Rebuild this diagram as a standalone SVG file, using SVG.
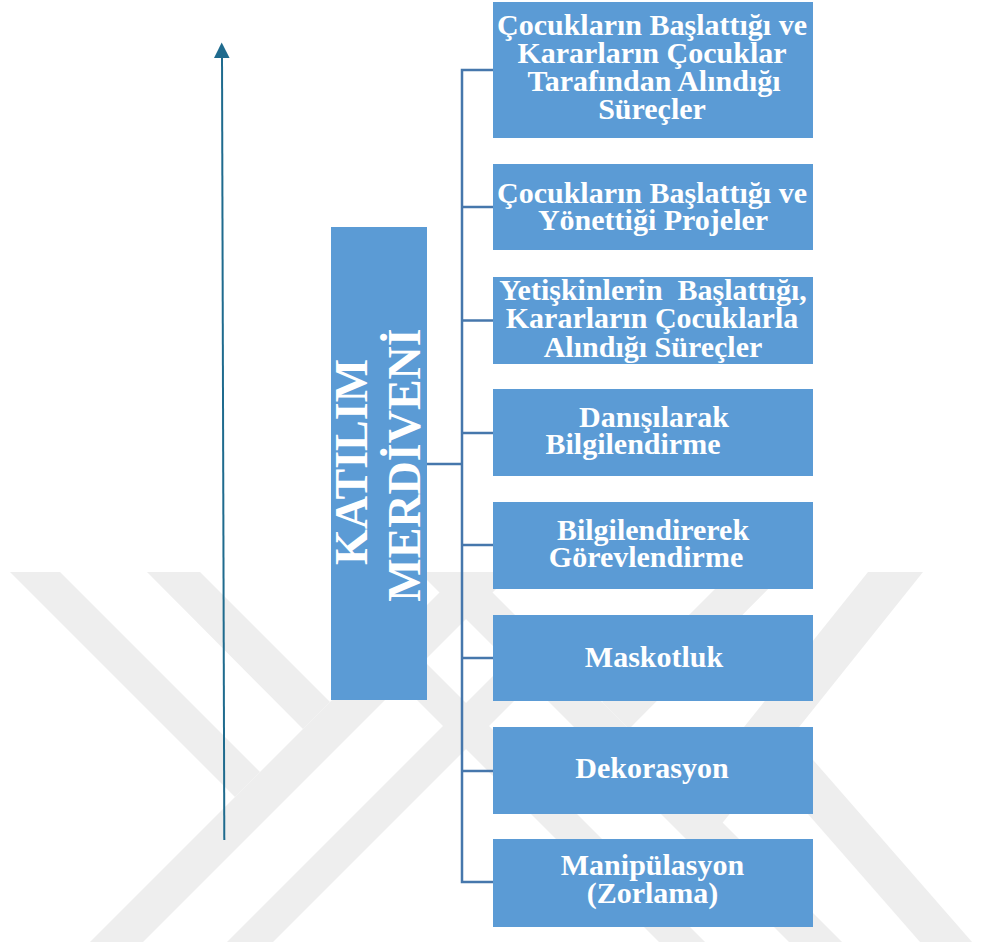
<svg xmlns="http://www.w3.org/2000/svg" width="986" height="952" viewBox="0 0 986 952">
  <defs>
    <style>
      .wm { fill: #eeeeee; }
      .box { fill: #5b9bd5; }
      .lbl { font-family: "Liberation Serif", "Times New Roman", serif; font-weight: bold; font-size: 30px; fill: #ffffff; text-anchor: middle; }
      .title { font-family: "Liberation Serif", "Times New Roman", serif; font-weight: bold; font-size: 46px; fill: #ffffff; text-anchor: middle; }
      .conn { stroke: #4677ac; stroke-width: 2.5; fill: none; }
      .axis { stroke: #1f6b8e; stroke-width: 2; fill: none; }
      .head { fill: #1f6b8e; }
    </style>
  </defs>

  <!-- background emblem -->
  <g id="emblem">
    <polygon class="wm" points="10,572 60,572 260,772 235,797"/>
    <polygon class="wm" points="147,572 200,572 330,702 303,729"/>
    <polygon class="wm" points="90,942 143,942 513,572 460,572"/>
    <polygon class="wm" points="227,942 273,942 531,684 508,661"/>
    <polygon class="wm" points="842,942 789,942 419,572 472,572"/>
    <polygon class="wm" points="705,942 659,942 401,684 424,661"/>
    <polygon class="wm" points="785,572 732,572 602,702 629,729"/>
    <polygon class="wm" points="868,572 923,572 700,851 700,782"/>
    <polygon class="wm" points="920,942 972,942 780,722 780,782"/>
  </g>

  <!-- vertical scale arrow -->
  <g id="scale-arrow">
    <line class="axis" x1="224.3" y1="840" x2="222" y2="56"/>
    <polygon class="head" points="221.7,42.5 229.6,58 214,58"/>
  </g>

  <!-- connectors -->
  <g id="connectors">
    <line class="conn" x1="427" y1="464" x2="462" y2="464"/>
    <polyline class="conn" points="493,70 462,70 462,882 493,882"/>
    <line class="conn" x1="462" y1="207" x2="493" y2="207"/>
    <line class="conn" x1="462" y1="320.5" x2="493" y2="320.5"/>
    <line class="conn" x1="462" y1="433" x2="493" y2="433"/>
    <line class="conn" x1="462" y1="545" x2="493" y2="545"/>
    <line class="conn" x1="462" y1="658" x2="493" y2="658"/>
    <line class="conn" x1="462" y1="771" x2="493" y2="771"/>
  </g>

  <!-- root -->
  <g id="katilim-merdiveni">
    <rect class="box" x="331" y="227" width="96" height="473"/>
    <text class="title" transform="translate(367,462) rotate(-90)">KATILIM</text>
    <text class="title" transform="translate(420,465) rotate(-90)">MERDİVENİ</text>
  </g>

  <!-- rungs -->
  <g id="rung-1">
    <rect class="box" x="493" y="2" width="320" height="136"/>
    <text class="lbl" x="652" y="34.5">Çocukların Başlattığı ve</text>
    <text class="lbl" x="652" y="62.7">Kararların Çocuklar</text>
    <text class="lbl" x="654" y="90.8">Tarafından Alındığı</text>
    <text class="lbl" x="652" y="119.3">Süreçler</text>
  </g>
  <g id="rung-2">
    <rect class="box" x="493" y="164" width="320" height="86"/>
    <text class="lbl" x="652" y="202.7">Çocukların Başlattığı ve</text>
    <text class="lbl" x="653" y="230">Yönettiği Projeler</text>
  </g>
  <g id="rung-3">
    <rect class="box" x="493" y="277" width="320" height="87"/>
    <text class="lbl" x="653" y="300" xml:space="preserve">Yetişkinlerin  Başlattığı,</text>
    <text class="lbl" x="652" y="327.7">Kararların Çocuklarla</text>
    <text class="lbl" x="653" y="356.7">Alındığı Süreçler</text>
  </g>
  <g id="rung-4">
    <rect class="box" x="493" y="389" width="320" height="87"/>
    <text class="lbl" x="654" y="426.7">Danışılarak</text>
    <text class="lbl" x="633" y="454.3">Bilgilendirme</text>
  </g>
  <g id="rung-5">
    <rect class="box" x="493" y="502" width="320" height="87"/>
    <text class="lbl" x="653" y="540">Bilgilendirerek</text>
    <text class="lbl" x="646" y="567.3">Görevlendirme</text>
  </g>
  <g id="rung-6">
    <rect class="box" x="493" y="615" width="320" height="86"/>
    <text class="lbl" x="654" y="666.7">Maskotluk</text>
  </g>
  <g id="rung-7">
    <rect class="box" x="493" y="727" width="320" height="87"/>
    <text class="lbl" x="652" y="778.3">Dekorasyon</text>
  </g>
  <g id="rung-8">
    <rect class="box" x="493" y="839" width="320" height="88"/>
    <text class="lbl" x="652.5" y="875">Manipülasyon</text>
    <text class="lbl" x="652.5" y="903.3">(Zorlama)</text>
  </g>
</svg>
